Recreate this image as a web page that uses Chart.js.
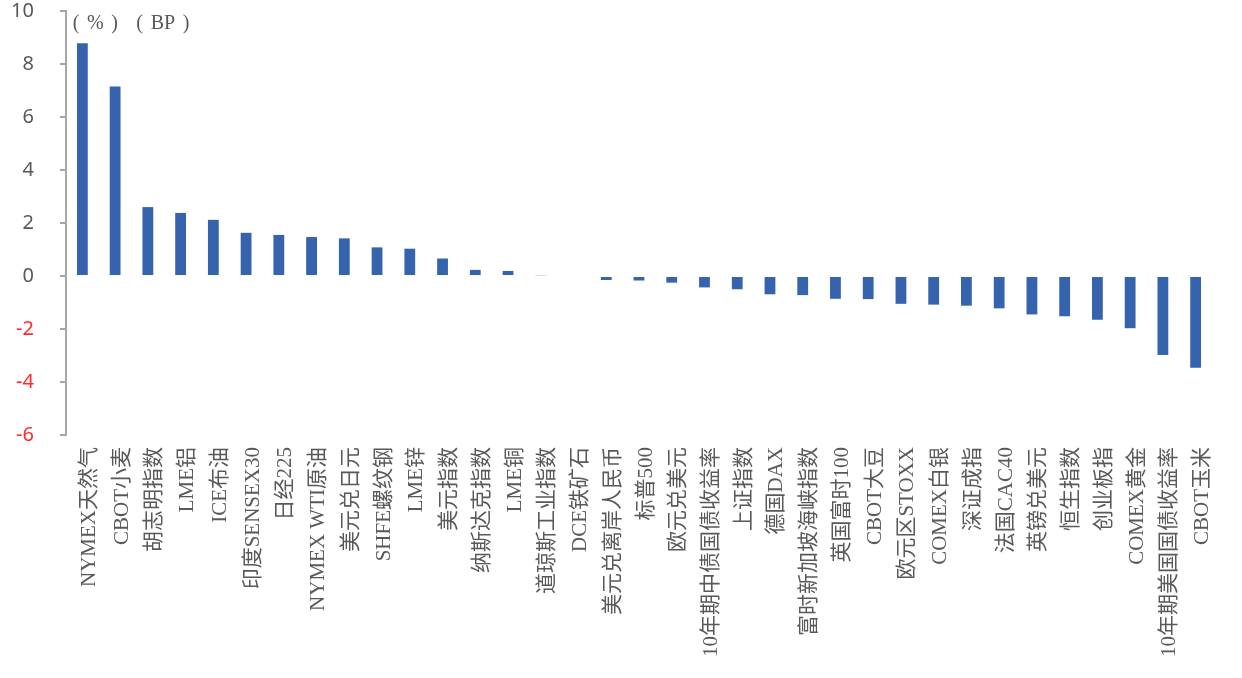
<!DOCTYPE html>
<html>
<head>
<meta charset="utf-8">
<script src="https://cdn.jsdelivr.net/npm/chart.js@4/dist/chart.umd.min.js"></script>
<style>
html, body { margin: 0; padding: 0; background: #fff; }
#wrap { position: relative; width: 1242px; height: 678px; }
#unit {
    position: absolute; left: 70px; top: 12px;
    font-family: "Liberation Serif", serif;
    font-size: 20px; line-height: 20px; color: #595959; white-space: pre;
}
#unit span { display: inline-block; }
#unit .p { width: 12px; text-align: center; }
#unit .t { padding: 0 5px; }
#unit .gap { width: 13px; }
</style>
</head>
<body>
<div id="wrap">
    <canvas id="myChart" width="1242" height="678"></canvas>
    <div id="unit"><span class="p">(</span><span class="t">%</span><span class="p">)</span><span class="gap"></span><span class="p">(</span><span class="t">BP</span><span class="p">)</span></div>
</div>
<script>
let labels = [
    'NYMEX天然气', 'CBOT小麦', '胡志明指数', 'LME铝', 'ICE布油',
    '印度SENSEX30', '日经225', 'NYMEX WTI原油', '美元兑日元', 'SHFE螺纹钢',
    'LME锌', '美元指数', '纳斯达克指数', 'LME铜', '道琼斯工业指数',
    'DCE铁矿石', '美元兑离岸人民币', '标普500', '欧元兑美元', '10年期中债国债收益率',
    '上证指数', '德国DAX', '富时新加坡海峡指数', '英国富时100', 'CBOT大豆',
    '欧元区STOXX', 'COMEX白银', '深证成指', '法国CAC40', '英镑兑美元',
    '恒生指数', '创业板指', 'COMEX黄金', '10年期美国国债收益率', 'CBOT玉米'
];

let changes = [
    8.78, 7.15, 2.6, 2.38, 2.12,
    1.63, 1.55, 1.47, 1.42, 1.08,
    1.03, 0.66, 0.23, 0.19, 0.03,
    0, -0.15, -0.17, -0.25, -0.43,
    -0.5, -0.69, -0.72, -0.86, -0.87,
    -1.05, -1.08, -1.12, -1.22, -1.45,
    -1.52, -1.65, -1.97, -2.98, -3.46
];

let yTicks = [10, 8, 6, 4, 2, 0, -2, -4, -6];

const labelFont = '"Liberation Serif", "Noto Sans CJK SC", serif';

/* drop the extra padding chart.js adds for edge labels */
const noPad = (scale) => {
    scale.paddingTop = 0;
    scale.paddingBottom = 0;
    scale.paddingLeft = 0;
    scale.paddingRight = 0;
};

let data = {
    labels: labels,
    datasets: [{
        label: '涨跌幅',
        backgroundColor: '#3563ae',
        borderWidth: 0,
        barPercentage: 0.33,
        categoryPercentage: 1,
        data: changes
    }]
};

let config = {
    type: 'bar',
    data: data,
    options: {
        responsive: false,
        animation: false,
        devicePixelRatio: 1,
        layout: { padding: { top: 11, right: 30, left: 0, bottom: 0 } },
        plugins: {
            legend: { display: false },
            tooltip: { enabled: false }
        },
        scales: {
            x: {
                border: { display: false },
                grid: { display: false, drawTicks: false },
                ticks: {
                    autoSkip: false,
                    minRotation: 90,
                    maxRotation: 90,
                    padding: 12,
                    labelOffset: 7,
                    color: '#595959',
                    font: { family: labelFont, size: 21 }
                },
                afterFit: (scale) => { scale.height = 243; noPad(scale); }
            },
            y: {
                min: -6,
                max: 10,
                afterBuildTicks: (scale) => {
                    scale.ticks = yTicks.map(v => ({ value: v }));
                },
                border: { display: true, color: '#a6a6a6', width: 2 },
                grid: {
                    drawOnChartArea: false,
                    drawTicks: true,
                    tickLength: 6,
                    color: '#a6a6a6',
                    lineWidth: 2
                },
                ticks: {
                    padding: 26,
                    color: (ctx) => ctx.tick.value < 0 ? '#ff2b2b' : '#595959',
                    font: { family: '"Noto Sans", sans-serif', size: 20 }
                },
                afterFit: (scale) => { scale.width = 66; noPad(scale); }
            }
        }
    }
};

var myChart = new Chart(
    document.getElementById('myChart').getContext('2d'),
    config
);
</script>
</body>
</html>
